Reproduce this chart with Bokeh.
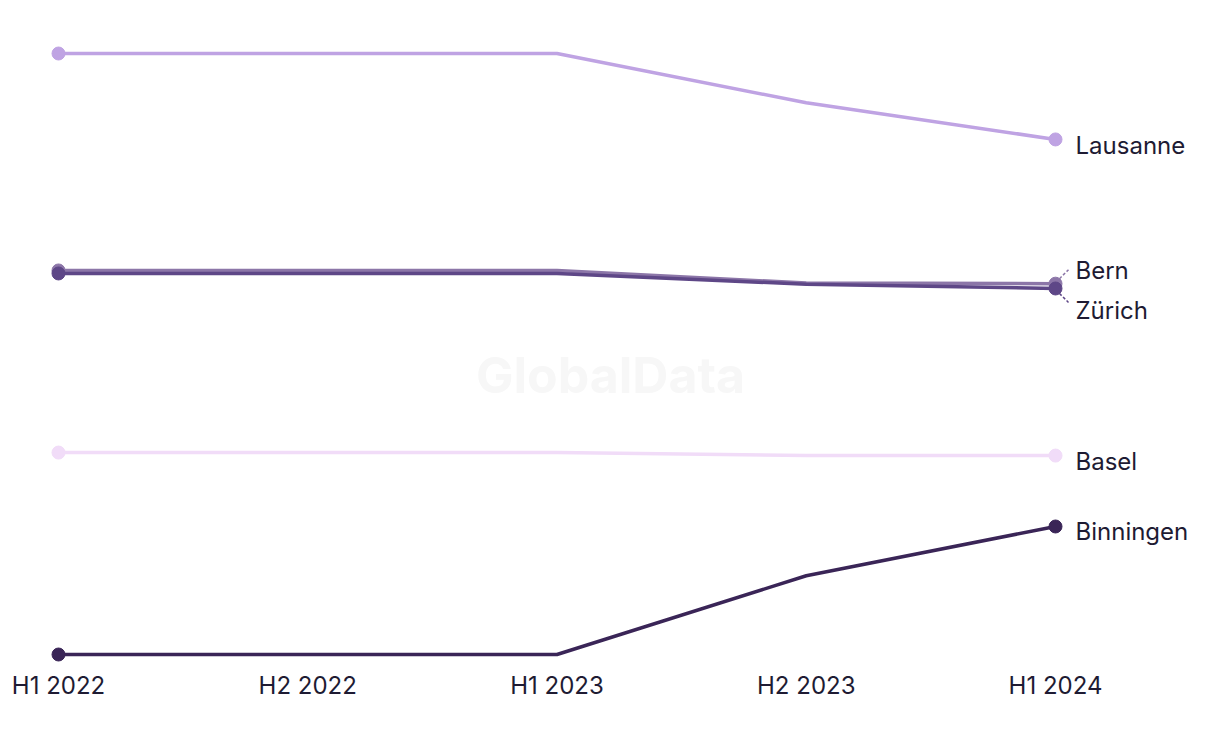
from bokeh.plotting import figure
from bokeh.models import Range1d, FixedTicker, Label
from bokeh.core.properties import value
from bokeh.embed import file_html
from bokeh.resources import INLINE

periods = ["H1 2022", "H2 2022", "H1 2023", "H2 2023", "H1 2024"]
cities = ["Lausanne", "Bern", "Zürich", "Basel", "Binningen"]
lausanne = [100.0, 100.0, 100.0, 91.8, 85.7]
bern = [63.9, 63.9, 63.9, 61.8, 61.7]
zurich = [63.4, 63.4, 63.4, 61.6, 60.9]
basel = [33.6, 33.6, 33.6, 33.1, 33.1]
binningen = [0.0, 0.0, 0.0, 13.1, 21.3]

series = [lausanne, bern, zurich, basel, binningen]
colors = ["#bfa3e3", "#8c76a8", "#5e4787", "#f1dcf8", "#3a2557"]
label_dy = [6, -13, 22, 6, 5]  # screen px offsets of end labels
TEXT = "#1e1b33"
FONT = "Inter"

W, H = 1204, 720
p = figure(width=W, height=H, output_backend="svg", toolbar_location=None,
           min_border_left=0, min_border_right=0, min_border_top=0, min_border_bottom=56)
px_x = 249.25
px_y = 6.01
x0 = -58 / px_x
p.x_range = Range1d(x0, x0 + W / px_x)
p.y_range = Range1d(-10 / px_y, 100 + 53 / px_y)
p.outline_line_color = None
p.xgrid.visible = False
p.ygrid.visible = False
p.yaxis.visible = False
p.background_fill_color = "white"
p.border_fill_color = "white"

xs = list(range(len(periods)))
p.xaxis.ticker = FixedTicker(ticks=xs)
p.xaxis.major_label_overrides = {i: s for i, s in enumerate(periods)}
p.xaxis.axis_line_color = None
p.xaxis.major_tick_line_color = None
p.xaxis.minor_tick_line_color = None
p.xaxis.major_tick_out = 0
p.xaxis.major_label_standoff = 6
p.xaxis.major_label_text_font = FONT
p.xaxis.major_label_text_font_size = "24px"
p.xaxis.major_label_text_color = TEXT

wm = Label(x=x0 + 610 / px_x, y=(654 - 374) / px_y, text="GlobalData",
           text_align="center", text_baseline="middle", text_font=FONT,
           text_font_style="bold", text_font_size="50px", text_color="#f7f7f7")
p.add_layout(wm)

for name, ys, c, dy in zip(cities, series, colors, label_dy):
    lw = 3.5
    p.line(xs, ys, line_color=c, line_width=lw)
    p.scatter([xs[0], xs[-1]], [ys[0], ys[-1]], size=13, fill_color=c, line_color=c)
    p.text([xs[-1]], [ys[-1]], text=[name], x_offset=20, y_offset=dy,
           text_baseline="middle", text_align="left", text_font=value(FONT),
           text_font_size="24px", text_color=TEXT)
    if abs(dy) > 8:
        sgn = -1 if dy < 0 else 1
        yend = ys[-1]
        p.segment(x0=[xs[-1] + 4 / px_x], y0=[yend - sgn * 5 / px_y],
                  x1=[xs[-1] + 13 / px_x], y1=[yend - sgn * 14 / px_y],
                  line_color=c, line_width=1.5, line_dash="3 2")

open("out.html", "w").write(file_html(p, INLINE))
